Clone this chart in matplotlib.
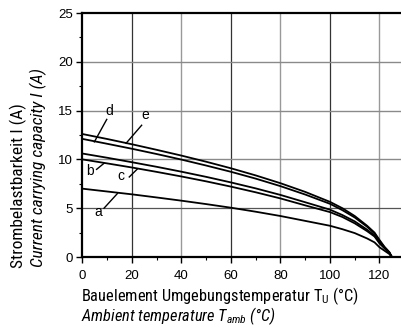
import numpy as np
import matplotlib
matplotlib.use('Agg')
import matplotlib.pyplot as plt
from matplotlib.ticker import MultipleLocator

# ambient temperature (degC) sample points
temp = [0, 10, 20, 30, 40, 50, 60, 70, 80, 90, 100, 105, 110, 115, 118, 120, 122, 124, 125]
# current carrying capacity (A)
cur_d = [12.6, 12.09, 11.55, 10.98, 10.39, 9.76, 9.09, 8.36, 7.56, 6.67, 5.65, 5.0, 4.2, 3.2, 2.5, 1.75, 1.05, 0.5, 0]
cur_e = [12.1, 11.6, 11.09, 10.55, 9.98, 9.37, 8.73, 8.03, 7.26, 6.40, 5.45, 4.8, 4.05, 3.1, 2.4, 1.65, 1.0, 0.45, 0]
cur_b = [10.6, 10.17, 9.71, 9.24, 8.74, 8.21, 7.64, 7.03, 6.36, 5.61, 4.85, 4.3, 3.65, 2.8, 2.2, 1.5, 0.95, 0.45, 0]
cur_c = [10.0, 9.59, 9.17, 8.72, 8.25, 7.75, 7.21, 6.63, 6.0, 5.29, 4.6, 4.1, 3.45, 2.65, 2.1, 1.4, 0.9, 0.4, 0]
cur_a = [7.0, 6.71, 6.42, 6.10, 5.77, 5.42, 5.05, 4.64, 4.2, 3.70, 3.2, 2.85, 2.45, 1.9, 1.5, 1.0, 0.65, 0.3, 0]

# curve labels: (text, label pos, leader start, leader end)
labels = [
    ('d', (11.0, 15.0), (9.8, 14.1), (4.8, 11.8)),
    ('e', (25.5, 14.6), (23.9, 13.5), (17.6, 11.65)),
    ('b', (3.0, 8.84), (8.7, 9.6), (5.7, 8.98)),
    ('c', (15.4, 8.3), (22.1, 9.0), (18.9, 8.2)),
    ('a', (6.4, 4.65), (14.1, 6.5), (8.7, 5.0)),
]

cond = ['Roboto Condensed', 'Archivo Narrow', 'DejaVu Sans']
plt.rcParams['font.family'] = ['Liberation Sans', 'DejaVu Sans']
plt.rcParams['mathtext.fontset'] = 'custom'
plt.rcParams['mathtext.rm'] = 'Roboto Condensed'
plt.rcParams['mathtext.it'] = 'Roboto Condensed:italic'

fig = plt.figure(figsize=(4.02, 3.32), dpi=100)
ax = fig.add_axes([0.2052, 0.2259, 0.7948, 0.7349])

# grid, scanned look: alternating dark / grey
for x in [20, 60, 100]:
    ax.axvline(x, color='#333333', lw=0.9, zorder=1)
for x in [40, 80, 120]:
    ax.axvline(x, color='#999999', lw=1.0, zorder=1)
ax.axhline(5, color='#555555', lw=0.9, zorder=1)
for y in [10, 15, 20]:
    ax.axhline(y, color='#8a8a8a', lw=1.0, zorder=1)

for c in [cur_d, cur_e, cur_b, cur_c, cur_a]:
    ax.plot(temp, c, color='black', lw=1.3, zorder=3)

for txt, pos, p1, p2 in labels:
    ax.text(pos[0], pos[1], txt, fontsize=10, ha='center', va='center')
    ax.plot([p1[0], p2[0]], [p1[1], p2[1]], color='black', lw=1.0)

ax.set_xlim(0, 129.1)
ax.set_ylim(0, 25)
ax.xaxis.set_major_locator(MultipleLocator(20))
ax.xaxis.set_minor_locator(MultipleLocator(10))
ax.yaxis.set_major_locator(MultipleLocator(5))
ax.yaxis.set_minor_locator(MultipleLocator(2.5))
ax.tick_params(which='major', direction='out', length=4, width=1.0, labelsize=9.5)
ax.tick_params(axis='x', which='major', pad=5)
ax.tick_params(axis='y', which='major', pad=3)
ax.tick_params(which='minor', direction='out', length=2.5, width=0.8)

ax.spines['right'].set_visible(False)
for s in ['left', 'bottom', 'top']:
    ax.spines[s].set_linewidth(1.6)

fig.text(81 / 402, 1 - 301.5 / 332, r'Bauelement Umgebungstemperatur T$_\mathrm{U}$ (°C)',
         family=cond, fontsize=11.8, ha='left', va='baseline')
fig.text(81 / 402, 1 - 321.5 / 332, r'Ambient temperature $T_{amb}$ (°C)',
         family=cond, style='italic', fontsize=11.8, ha='left', va='baseline')
fig.text(18 / 402, 1 - 268 / 332, 'Strombelastbarkeit I (A)', family=cond,
         fontsize=12.5, rotation=90, ha='center', va='bottom')
fig.text(38 / 402, 1 - 267 / 332, 'Current carrying capacity I (A)', family=cond,
         style='italic', fontsize=12.5, rotation=90, ha='center', va='bottom')

fig.savefig('out.png', dpi=100)
